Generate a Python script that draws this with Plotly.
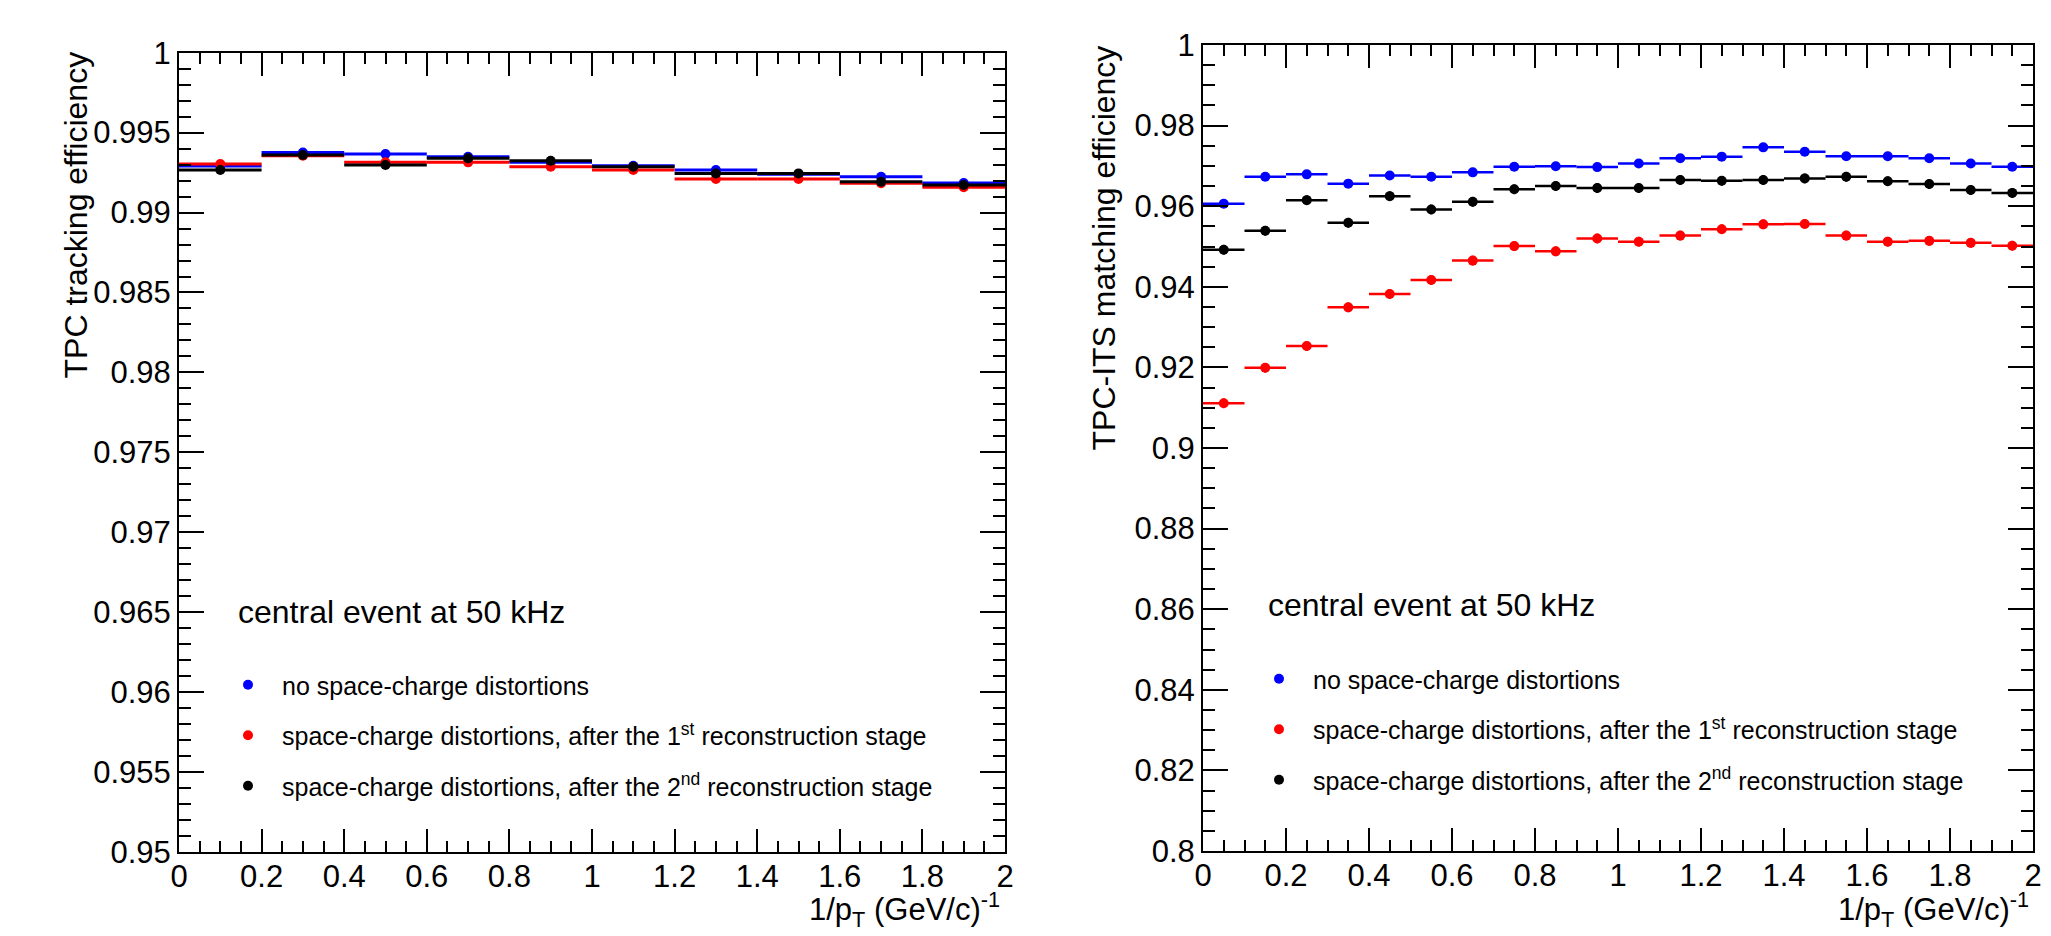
import plotly.graph_objects as go

# ---------------- data ----------------
x_left = [0.1, 0.3, 0.5, 0.7, 0.9, 1.1, 1.3, 1.5, 1.7, 1.9]
bin_half_left = 0.1
left_blue = [0.99291, 0.99375, 0.99366, 0.99349, 0.99314, 0.99293, 0.99266, 0.99240, 0.99224, 0.99185]
left_red = [0.99303, 0.99355, 0.99314, 0.99314, 0.99287, 0.99266, 0.99210, 0.99210, 0.99183, 0.99158]
left_black = [0.99266, 0.99360, 0.99297, 0.99339, 0.99324, 0.99287, 0.99245, 0.99245, 0.99193, 0.99172]
left_err_blue = [0.0002] * 10
left_err_red = [0.00025] * 10
left_err_black = [0.00025] * 10

x_right = [0.05, 0.15, 0.25, 0.35, 0.45, 0.55, 0.65, 0.75, 0.85, 0.95,
           1.05, 1.15, 1.25, 1.35, 1.45, 1.55, 1.65, 1.75, 1.85, 1.95]
bin_half_right = 0.05
right_blue = [0.9606, 0.9673, 0.9679, 0.9656, 0.9676, 0.9673, 0.9684, 0.9698, 0.9699, 0.9697,
              0.9706, 0.9719, 0.9723, 0.9746, 0.9735, 0.9724, 0.9724, 0.9719, 0.9706, 0.9698]
right_red = [0.9111, 0.9199, 0.9253, 0.9349, 0.9382, 0.9417, 0.9465, 0.9501, 0.9488, 0.9520,
             0.9512, 0.9527, 0.9543, 0.9555, 0.9556, 0.9527, 0.9512, 0.9514, 0.9509, 0.9502]
right_black = [0.9492, 0.9539, 0.9615, 0.9559, 0.9625, 0.9592, 0.9611, 0.9642, 0.9650, 0.9645,
               0.9645, 0.9665, 0.9663, 0.9665, 0.9669, 0.9673, 0.9662, 0.9655, 0.9640, 0.9633]
right_err_blue = [0.0009] * 20
right_err_red = [0.0012] * 20
right_err_black = [0.0012] * 20

series_names = [
    "no space-charge distortions",
    "space-charge distortions, after the 1<sup>st</sup> reconstruction stage",
    "space-charge distortions, after the 2<sup>nd</sup> reconstruction stage",
]
series_colors = ["#0000ff", "#ff0000", "#000000"]

ytitle_left = "TPC tracking efficiency"
ytitle_right = "TPC-ITS matching efficiency"
xtitle = "1/p<sub>T</sub> (GeV/c)<sup>-1</sup>"
header = "central event at 50 kHz"

# ---------------- layout helpers ----------------
W, H = 2051, 936
FONT = "Liberation Sans, Arial, Helvetica, sans-serif"


def px(xp):
    return xp / W


def py(yp):
    return 1 - yp / H


fig = go.Figure()

left_sets = [(left_blue, left_err_blue), (left_red, left_err_red), (left_black, left_err_black)]
right_sets = [(right_blue, right_err_blue), (right_red, right_err_red), (right_black, right_err_black)]

for i, (vals, errs) in enumerate(left_sets):
    c = series_colors[i]
    fig.add_trace(go.Scatter(
        x=x_left, y=vals, mode="markers", name=series_names[i],
        marker=dict(color=c, size=10, symbol="circle", line=dict(width=0)),
        error_x=dict(type="data", array=[bin_half_left] * len(x_left), color=c, thickness=3, width=0),
        error_y=dict(type="data", array=errs, color=c, thickness=3, width=0),
        xaxis="x", yaxis="y", legend="legend", legendgroup="L%d" % i,
    ))

for i, (vals, errs) in enumerate(right_sets):
    c = series_colors[i]
    fig.add_trace(go.Scatter(
        x=x_right, y=vals, mode="markers", name=series_names[i],
        marker=dict(color=c, size=10, symbol="circle", line=dict(width=0)),
        error_x=dict(type="data", array=[bin_half_right] * len(x_right), color=c, thickness=2.5, width=0),
        error_y=dict(type="data", array=errs, color=c, thickness=2.5, width=0),
        xaxis="x2", yaxis="y2", legend="legend2", legendgroup="R%d" % i,
    ))

tickfont = dict(family=FONT, size=31, color="black")


def xaxis_style(domain, anchor):
    return dict(
        domain=domain, anchor=anchor, range=[0, 2], automargin=False,
        showline=True, linewidth=2, linecolor="black", mirror="allticks",
        ticks="inside", ticklen=23, tickwidth=2, tickcolor="black",
        tick0=0, dtick=0.2,
        minor=dict(ticks="inside", ticklen=11, tickwidth=2, tickcolor="black",
                   tick0=0, dtick=0.05, showgrid=False),
        showgrid=False, zeroline=False, tickfont=tickfont,
        ticklabelstandoff=-4,
    )


def yaxis_style(domain, anchor, rng, dt, mdt):
    return dict(
        domain=domain, anchor=anchor, range=rng, automargin=False,
        showline=True, linewidth=2, linecolor="black", mirror="allticks",
        ticks="inside", ticklen=25, tickwidth=2, tickcolor="black",
        tick0=rng[0], dtick=dt,
        minor=dict(ticks="inside", ticklen=12, tickwidth=2, tickcolor="black",
                   tick0=rng[0], dtick=mdt, showgrid=False),
        showgrid=False, zeroline=False, tickfont=tickfont,
        ticklabelstandoff=0,
    )


legend_common = dict(
    xanchor="left", yanchor="top", bgcolor="rgba(0,0,0,0)", borderwidth=0,
    font=dict(family=FONT, size=25, color="black"),
    traceorder="grouped", tracegroupgap=15, itemwidth=58,
)

fig.update_layout(
    width=W, height=H, autosize=False,
    margin=dict(l=0, r=0, t=0, b=0, autoexpand=False),
    paper_bgcolor="white", plot_bgcolor="white",
    font=dict(family=FONT, color="black"),
    xaxis=xaxis_style([px(179), px(1005)], "y"),
    yaxis=yaxis_style([py(852), py(52.7)], "x", [0.95, 1.0], 0.005, 0.001),
    xaxis2=xaxis_style([px(1203), px(2033)], "y2"),
    yaxis2=yaxis_style([py(851), py(45)], "x2", [0.8, 1.0], 0.02, 0.005),
    legend=dict(x=px(214), y=py(662), **legend_common),
    legend2=dict(x=px(1245), y=py(656), **legend_common),
    showlegend=True,
)

annots = [
    dict(text=ytitle_left, x=px(75), y=py(50), xanchor="center", yanchor="top",
         textangle=-90, font=dict(family=FONT, size=32)),
    dict(text=ytitle_right, x=px(1103), y=py(44), xanchor="center", yanchor="top",
         textangle=-90, font=dict(family=FONT, size=32)),
    dict(text=xtitle, x=px(1002), y=py(934), xanchor="right", yanchor="bottom",
         font=dict(family=FONT, size=31)),
    dict(text=xtitle, x=px(2031), y=py(934), xanchor="right", yanchor="bottom",
         font=dict(family=FONT, size=31)),
    dict(text=header, x=px(236), y=py(612), xanchor="left", yanchor="middle",
         font=dict(family=FONT, size=32)),
    dict(text=header, x=px(1266), y=py(605), xanchor="left", yanchor="middle",
         font=dict(family=FONT, size=32)),
]
for a in annots:
    a.update(xref="paper", yref="paper", showarrow=False)
fig.update_layout(annotations=annots)

fig.write_html(
    "out.html",
    config={"displayModeBar": False},
    post_script="document.body.style.margin='0px';document.body.style.overflow='hidden';",
)
